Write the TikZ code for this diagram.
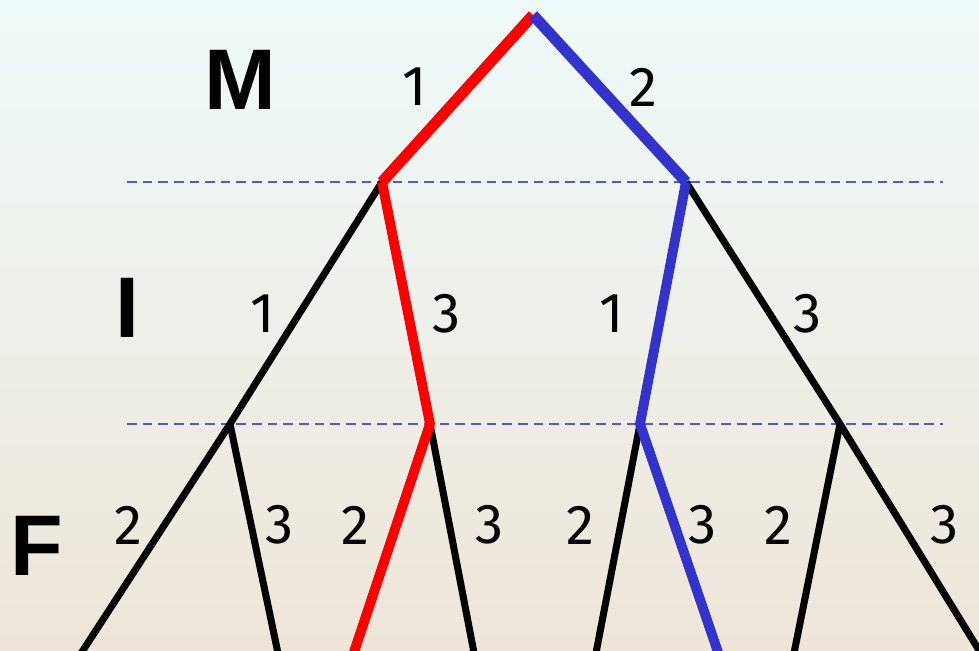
\documentclass[tikz,border=0pt]{standalone}
\usepackage{fontspec}
\setmainfont{Fira Sans}
\newfontfamily\lvlfont{Liberation Sans}
\definecolor{bgtop}{RGB}{238,250,249}
\definecolor{bgmid}{RGB}{242,244,236}
\definecolor{bgbot}{RGB}{238,229,216}
\definecolor{pathred}{RGB}{255,0,0}
\definecolor{pathblue}{RGB}{51,51,204}
\definecolor{levelline}{RGB}{85,85,221}
\usetikzlibrary{positioning}

\begin{document}
\begin{tikzpicture}[x=0.02cm, y=-0.02cm,
      lvl/.style={font=\lvlfont\bfseries\fontsize{49}{49}\selectfont},
      num/.style={font=\fontsize{32}{32}\selectfont},
      sep/.style={levelline, line width=1.5pt, dash pattern=on 5.5pt off 3.4pt},
      br/.style={line width=4pt, black},
      top/.style={line width=6.3pt},
      sel/.style={line width=5.6pt, line join=round}
  ]
    \shade[top color=bgtop, middle color=bgmid, bottom color=bgbot] (0,0) rectangle (979,651);
    \useasboundingbox (0,0) rectangle (979,651);
    \clip (0,0) rectangle (979,651);
    % tree points
    \coordinate (root) at (533,15);
    \coordinate (a) at (382,182);
    \coordinate (b) at (686,182);
    \coordinate (a1) at (230,424);
    \coordinate (a3) at (430,424);
    \coordinate (b1) at (640,424);
    \coordinate (b3) at (840,424);
    \coordinate (a12) at (78,658);
    \coordinate (a13) at (279,658);
    \coordinate (a32) at (352,658);
    \coordinate (a33) at (475,658);
    \coordinate (b12) at (595,658);
    \coordinate (b13) at (720,658);
    \coordinate (b32) at (793,658);
    \coordinate (b33) at (985,660);
    % level separators
    \coordinate (s1l) at (127,182);
    \coordinate (s1r) at (943,182);
    \coordinate (s2l) at (127,424);
    \coordinate (s2r) at (943,424);
    \draw[sep] (s1l) -- (s1r);
    \draw[sep] (s2l) -- (s2r);
    % black branches
    \draw[br] (a) -- (a1);
    \draw[br] (b) -- (b3);
    \draw[br] (a1) -- (a12);
    \draw[br] (a1) -- (a13);
    \draw[br] (a3) -- (a33);
    \draw[br] (b1) -- (b12);
    \draw[br] (b3) -- (b32);
    \draw[br] (b3) -- (b33);
    % chosen paths
    \draw[pathred, top] (root) -- (a);
    \draw[pathblue, top] (root) -- (b);
    \draw[pathred, sel] (a) -- (a3) -- (a32);
    \draw[pathblue, sel] (b) -- (b1) -- (b13);
    % levels
    \node[lvl] (lm) at (240,80) {M};
    \node[lvl] (li) at (127,308) {I};
    \node[lvl] (lf) at (37,546) {F};
    % moves
    \node[num] (m1) at (415,87) {1};
    \node[num] (m2) at (643,87) {2};
    \node[num] (ia1) at (263,314) {1};
    \node[num] (ia3) at (447,314) {3};
    \node[num] (ib1) at (612,314) {1};
    \node[num] (ib3) at (808,314) {3};
    \node[num] (f1) at (128,525) {2};
    \node[num] (f2) at (280,525) {3};
    \node[num] (f3) at (355,525) {2};
    \node[num] (f4) at (490,525) {3};
    \node[num] (f5) at (580,525) {2};
    \node[num] (f6) at (703,525) {3};
    \node[num] (f7) at (778,525) {2};
    \node[num] (f8) at (945,525) {3};
  \end{tikzpicture}
\end{document}
